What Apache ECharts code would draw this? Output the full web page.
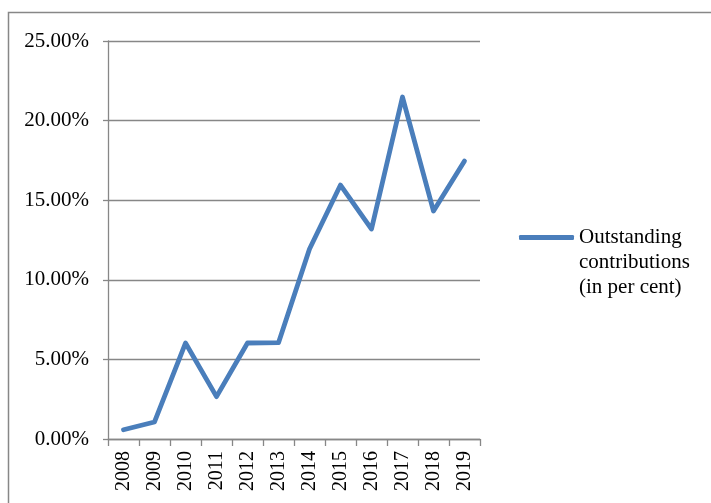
<!DOCTYPE html>
<html>
<head>
<meta charset="utf-8">
<script src="https://cdn.jsdelivr.net/npm/echarts@6/dist/echarts.min.js"></script>
<style>html,body{margin:0;padding:0;background:#fff;}#c{width:711px;height:503px;}</style>
</head>
<body>
<div id="c"></div>
<script>
var years = ['2008','2009','2010','2011','2012','2013','2014','2015','2016','2017','2018','2019'];
var outstanding = [0.58, 1.07, 6.03, 2.66, 6.03, 6.05, 11.93, 15.95, 13.19, 21.48, 14.32, 17.46];
var seriesName = 'Outstanding\ncontributions\n(in per cent)';
var yMin = 0, yMax = 25, yStep = 5;

var grey = '#878787';
var font = '"Liberation Serif", "DejaVu Serif", serif';
var chart = echarts.init(document.getElementById('c'), null, {renderer: 'canvas'});
chart.setOption({
  backgroundColor: '#fff',
  animation: false,
  textStyle: {fontFamily: font},
  graphic: [
    {type: 'polyline', shape: {points: [[8.5, 503], [8.5, 12.5], [711, 12.5]]},
     style: {stroke: grey, lineWidth: 1.5, fill: null}, silent: true}
  ],
  grid: {left: 108, right: 231, top: 41, bottom: 64, containLabel: false},
  legend: {
    left: 519, top: 175, orient: 'vertical', padding: 0,
    itemWidth: 55, itemHeight: 5,
    data: [{name: seriesName, icon: 'roundRect'}],
    itemStyle: {color: '#4A7EBB', borderWidth: 0},
    formatter: function (n) { return '\n\n' + n; },
    textStyle: {fontFamily: font, fontSize: 21, color: '#000', lineHeight: 25}
  },
  xAxis: {
    type: 'category', data: years, boundaryGap: true,
    axisLine: {lineStyle: {color: grey, width: 1.3}},
    axisTick: {show: true, length: 7, lineStyle: {color: grey, width: 1.3}},
    axisLabel: {rotate: 90, margin: 12, color: '#000', fontSize: 20, fontFamily: font}
  },
  yAxis: {
    type: 'value', min: yMin, max: yMax, interval: yStep,
    axisLine: {show: true, lineStyle: {color: grey, width: 1.3}},
    axisTick: {show: true, length: 5, lineStyle: {color: grey, width: 1.3}},
    splitLine: {lineStyle: {color: grey, width: 1.3}},
    axisLabel: {margin: 19, color: '#000', fontSize: 21, fontFamily: font,
      formatter: function (v) { return v.toFixed(2) + '%'; }}
  },
  series: [{
    name: seriesName, type: 'line', data: outstanding,
    symbol: 'none', smooth: false,
    itemStyle: {color: '#4A7EBB'},
    lineStyle: {color: '#4A7EBB', width: 4.8, cap: 'round', join: 'round'}
  }]
});
</script>
</body>
</html>
